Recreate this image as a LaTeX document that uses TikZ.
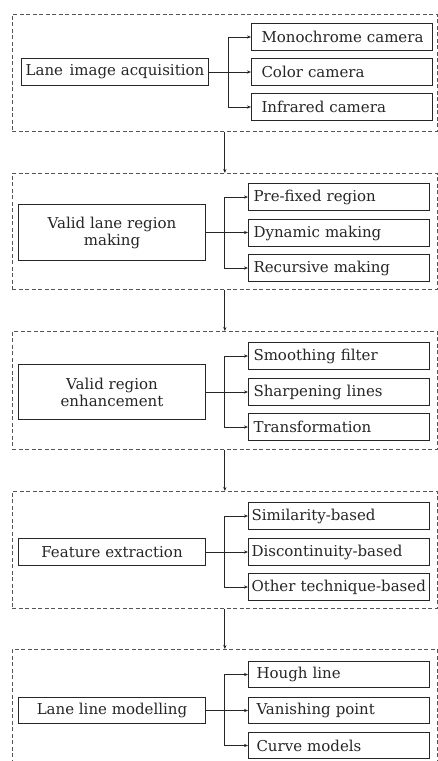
\documentclass[tikz,border=0pt]{standalone}
\usepackage{fontspec}
\setmainfont{DejaVu Serif}
\usetikzlibrary{arrows.meta}
\definecolor{ink}{HTML}{262626}
\definecolor{dash}{HTML}{555555}
\begin{document}
\begin{tikzpicture}[x=1pt,y=-1pt,
  font=\fontsize{15}{17}\selectfont, text=ink,
  blk/.style={draw=dash, line width=0.7pt, dash pattern=on 4pt off 2.5pt, anchor=north west, minimum width=425pt, inner sep=0pt},
  mainbox/.style={draw=ink, line width=1pt, anchor=north west, minimum width=187pt, align=center, inner sep=0pt},
  kid/.style={draw=ink, line width=1pt, anchor=north west, minimum width=181pt, minimum height=27pt, inner ysep=0pt, inner xsep=#1, text width=181pt-2*#1, align=left},
  kid/.default=6pt,
  arr/.style={draw=ink, line width=0.8pt, -{Stealth[length=4pt,width=3.2pt]}}
]
\clip (0,0) rectangle (438,761);
\fill[white] (0,0) rectangle (438,761);

% Block 1
\node[blk, minimum height=117pt] (blk1) at (12,14) {};
\node[mainbox, minimum height=27pt] (m1) at (21,58) {Lane\hspace{0.12em} image acquisition};
\node[kid=10pt] (c11) at (251,23) {\mbox{Monochrome camera}};
\node[kid=10pt] (c12) at (251,58) {Color camera};
\node[kid=10pt] (c13) at (251,93) {Infrared camera};
\path (m1.east) ++(19,0) coordinate (b1);
\draw[arr] (m1.east) -- (m1.east -| c12.west);
\draw[arr] (b1) |- (c11.west);
\draw[arr] (b1) |- (c13.west);

% Block 2
\node[blk, minimum height=116pt] (blk2) at (12,173) {};
\node[mainbox, minimum height=56pt] (m2) at (18,204) {Valid lane region\\making};
\node[kid=5pt] (c21) at (248,183) {Pre-fixed region};
\node[kid=5pt] (c22) at (248,219) {Dynamic making};
\node[kid=5pt] (c23) at (248,254) {Recursive making};
\path (m2.east) ++(18,0) coordinate (b2);
\draw[arr] (m2.east) -- (m2.east -| c22.west);
\draw[arr] (b2) |- (c21.west);
\draw[arr] (b2) |- (c23.west);

% Block 3
\node[blk, minimum height=118pt] (blk3) at (12,331) {};
\node[mainbox, minimum height=55pt] (m3) at (18,364) {Valid region\\enhancement};
\node[kid=5pt] (c31) at (248,342) {Smoothing filter};
\node[kid=5pt] (c32) at (248,378) {Sharpening lines};
\node[kid=5pt] (c33) at (248,413) {Transformation};
\path (m3.east) ++(18,0) coordinate (b3);
\draw[arr] (m3.east) -- (m3.east -| c32.west);
\draw[arr] (b3) |- (c31.west);
\draw[arr] (b3) |- (c33.west);

% Block 4
\node[blk, minimum height=117pt] (blk4) at (12,491) {};
\node[mainbox, minimum height=27pt] (m4) at (18,538) {Feature extraction};
\node[kid=3pt] (c41) at (248,502) {Similarity-based};
\node[kid=3pt] (c42) at (248,538) {Discontinuity-based};
\node[kid=3pt] (c43) at (248,573) {\mbox{Other technique-based}};
\path (m4.east) ++(18,0) coordinate (b4);
\draw[arr] (m4.east) -- (m4.east -| c42.west);
\draw[arr] (b4) |- (c41.west);
\draw[arr] (b4) |- (c43.west);

% Block 5
\node[blk, minimum height=125pt] (blk5) at (12,649) {};
\node[mainbox, minimum height=26pt] (m5) at (18,697) {Lane line modelling};
\node[kid=8pt, minimum height=26pt] (c51) at (248,661) {Hough line};
\node[kid=8pt, minimum height=26pt] (c52) at (248,697) {Vanishing point};
\node[kid=8pt, minimum height=26pt] (c53) at (248,732) {Curve models};
\path (m5.east) ++(18,0) coordinate (b5);
\draw[arr] (m5.east) -- (m5.east -| c52.west);
\draw[arr] (b5) |- (c51.west);
\draw[arr] (b5) |- (c53.west);

% Between blocks
\draw[arr] (blk1.south) -- (blk2.north);
\draw[arr] (blk2.south) -- (blk3.north);
\draw[arr] (blk3.south) -- (blk4.north);
\draw[arr] (blk4.south) -- (blk5.north);
\end{tikzpicture}
\end{document}
